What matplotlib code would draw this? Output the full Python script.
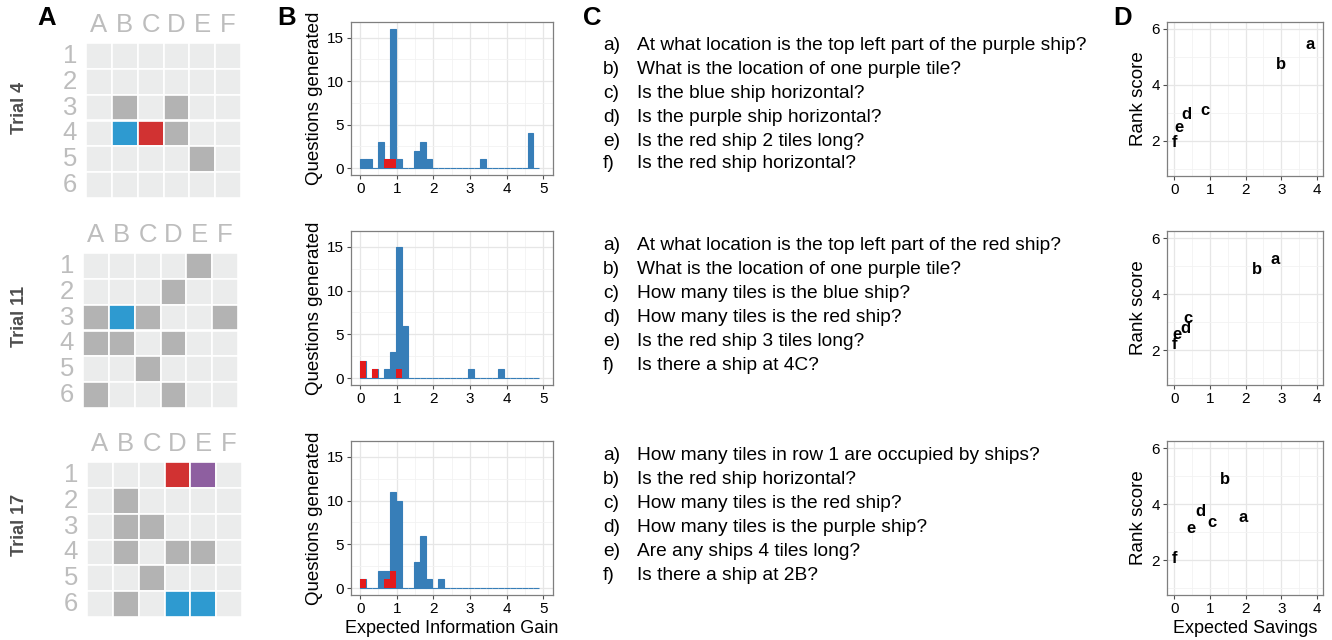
import numpy as np
import matplotlib
matplotlib.use("Agg")
import matplotlib.pyplot as plt
from matplotlib.patches import Rectangle

plt.rcParams['font.family'] = ['Liberation Sans', 'DejaVu Sans']

W, H = 1332, 640
fig = plt.figure(figsize=(W / 100, H / 100), dpi=100)

def ax_px(l, t, r, b):
    return fig.add_axes([l / W, 1 - b / H, (r - l) / W, (b - t) / H])

# ---------------- data ----------------
trials = ["Trial 4", "Trial 11", "Trial 17"]
col_letters = ["A", "B", "C", "D", "E", "F"]
row_numbers = ["1", "2", "3", "4", "5", "6"]

# board codes: . unknown, H hit (grey), B blue, R red, P purple
board_t4 = ["......",
            "......",
            ".H.H..",
            ".BRH..",
            "....H.",
            "......"]
board_t11 = ["....H.",
             "...H..",
             "HBH..H",
             "HH.H..",
             "..H...",
             "H..H.."]
board_t17 = ["...RP.",
             ".H....",
             ".HH...",
             ".H.HH.",
             "..H...",
             ".H.BB."]
boards = [board_t4, board_t11, board_t17]

# histogram: 30 bins of expected information gain, counts per bin
blue_t4 = [1, 1, 0, 3, 1, 16, 1, 0, 0, 2, 3, 1, 0, 0, 0, 0, 0, 0, 0, 0, 1, 0, 0, 0, 0, 0, 0, 0, 4, 0]
red_t4 = [0, 0, 0, 0, 1, 1, 0, 0, 0, 0, 0, 0, 0, 0, 0, 0, 0, 0, 0, 0, 0, 0, 0, 0, 0, 0, 0, 0, 0, 0]
blue_t11 = [2, 0, 1, 0, 1, 3, 15, 6, 0, 0, 0, 0, 0, 0, 0, 0, 0, 0, 1, 0, 0, 0, 0, 1, 0, 0, 0, 0, 0, 0]
red_t11 = [2, 0, 1, 0, 0, 0, 1, 0, 0, 0, 0, 0, 0, 0, 0, 0, 0, 0, 0, 0, 0, 0, 0, 0, 0, 0, 0, 0, 0, 0]
blue_t17 = [1, 0, 0, 2, 2, 11, 10, 0, 0, 3, 6, 1, 0, 1, 0, 0, 0, 0, 0, 0, 0, 0, 0, 0, 0, 0, 0, 0, 0, 0]
red_t17 = [1, 0, 0, 0, 1, 2, 0, 0, 0, 0, 0, 0, 0, 0, 0, 0, 0, 0, 0, 0, 0, 0, 0, 0, 0, 0, 0, 0, 0, 0]
blue_counts = [blue_t4, blue_t11, blue_t17]
red_counts = [red_t4, red_t11, red_t17]
eig_max = 4.9

# questions
q_letters = ["a)", "b)", "c)", "d)", "e)", "f)"]
questions_t4 = ["At what location is the top left part of the purple ship?",
                "What is the location of one purple tile?",
                "Is the blue ship horizontal?",
                "Is the purple ship horizontal?",
                "Is the red ship 2 tiles long?",
                "Is the red ship horizontal?"]
questions_t11 = ["At what location is the top left part of the red ship?",
                 "What is the location of one purple tile?",
                 "How many tiles is the blue ship?",
                 "How many tiles is the red ship?",
                 "Is the red ship 3 tiles long?",
                 "Is there a ship at 4C?"]
questions_t17 = ["How many tiles in row 1 are occupied by ships?",
                 "Is the red ship horizontal?",
                 "How many tiles is the red ship?",
                 "How many tiles is the purple ship?",
                 "Are any ships 4 tiles long?",
                 "Is there a ship at 2B?"]
questions = [questions_t4, questions_t11, questions_t17]

# scatter: expected savings vs rank score
pt_labels = ["a", "b", "c", "d", "e", "f"]
savings_t4 = [3.81, 2.99, 0.87, 0.34, 0.14, 0.0]
rank_t4 = [5.45, 4.73, 3.10, 2.96, 2.50, 1.96]
savings_t11 = [2.83, 2.32, 0.40, 0.31, 0.07, 0.0]
rank_t11 = [5.25, 4.87, 3.11, 2.78, 2.54, 2.20]
savings_t17 = [1.94, 1.43, 1.06, 0.73, 0.48, 0.0]
rank_t17 = [3.52, 4.87, 3.35, 3.73, 3.13, 2.04]
savings = [savings_t4, savings_t11, savings_t17]
ranks = [rank_t4, rank_t11, rank_t17]

# ---------------- styles ----------------
cell_colors = {".": "#ebecec", "H": "#b3b3b3", "B": "#2e9ad0",
               "R": "#d13232", "P": "#8e5fa0"}
BLUE = "#377eb8"
RED = "#e41a1c"
BORDER = "#7f7f7f"
GRID_MAJ = "#e6e6e6"
GRID_MIN = "#f2f2f2"
LABEL_GREY = "#bdbdbd"

grid_boxes = [(86, 43, 241, 198), (83, 253, 238, 408), (87, 462, 242, 617)]
hist_boxes = [(351, 22, 553, 175), (351, 231, 553, 385), (351, 441, 553, 595)]
scat_boxes = [(1167, 22, 1323, 176), (1167, 231, 1323, 385), (1167, 441, 1323, 595)]
q_rows_y = [[45, 69, 93, 117, 141, 164],
            [245, 269, 293, 317, 341, 365],
            [455, 479, 503, 527, 551, 575]]
trial_label_y = [108, 316, 525]


def style_ggplot(ax):
    for s in ax.spines.values():
        s.set_color(BORDER)
        s.set_linewidth(0.9)
    ax.tick_params(axis='both', colors='#4d4d4d', labelcolor='black',
                   length=3, width=0.8, labelsize=11, pad=2)
    ax.grid(True, which='major', color=GRID_MAJ, lw=0.9, zorder=0)
    ax.grid(True, which='minor', color=GRID_MIN, lw=0.6, zorder=0)
    ax.tick_params(which='minor', length=0)
    ax.set_axisbelow(True)


for i in range(3):
    # ---------- A: board ----------
    l, t, r, b = grid_boxes[i]
    axg = ax_px(l, t, r, b)
    axg.set_xlim(0, 6)
    axg.set_ylim(6, 0)
    axg.axis('off')
    for ri, row in enumerate(boards[i]):
        for ci, ch in enumerate(row):
            axg.add_patch(Rectangle((ci, ri), 1, 1, facecolor=cell_colors[ch],
                                    edgecolor='white', lw=1.2))
    for ci, lab in enumerate(col_letters):
        axg.text(ci + 0.5, -0.25, lab, ha='center', va='bottom', fontsize=18.5,
                 color=LABEL_GREY, clip_on=False)
    for ri, lab in enumerate(row_numbers):
        axg.text(-0.35, ri + 0.5, lab, ha='right', va='center', fontsize=18.5,
                 color=LABEL_GREY, clip_on=False)
    fig.text(19 / W, 1 - trial_label_y[i] / H, trials[i], rotation=90,
             ha='center', va='center', fontsize=13, fontweight='bold',
             color='#4d4d4d')

    # ---------- B: histogram ----------
    l, t, r, b = hist_boxes[i]
    axh = ax_px(l, t, r, b)
    style_ggplot(axh)
    edges = np.linspace(0, eig_max, len(blue_counts[i]) + 1)
    w = edges[1] - edges[0]
    axh.bar(edges[:-1], blue_counts[i], width=w, align='edge', color=BLUE,
            edgecolor=BLUE, lw=0.8, zorder=2)
    axh.bar(edges[:-1], red_counts[i], width=w, align='edge', color=RED,
            lw=0, zorder=3)
    axh.set_xlim(-0.25, 5.27)
    axh.set_ylim(-0.8, 16.8)
    axh.set_xticks([0, 1, 2, 3, 4, 5])
    axh.set_xticks(np.arange(0.5, 5.0, 1.0), minor=True)
    axh.set_yticks([0, 5, 10, 15])
    axh.set_yticks([2.5, 7.5, 12.5], minor=True)
    axh.set_ylabel("Questions generated", fontsize=13.5, labelpad=3)
    if i == 2:
        axh.set_xlabel("Expected Information Gain", fontsize=13, labelpad=3)

    # ---------- C: questions ----------
    for k in range(6):
        y = 1 - q_rows_y[i][k] / H
        fig.text(603 / W, y, q_letters[k], ha='left', va='center', fontsize=13.8)
        fig.text(637 / W, y, questions[i][k], ha='left', va='center', fontsize=13.8)

    # ---------- D: scatter ----------
    l, t, r, b = scat_boxes[i]
    axs = ax_px(l, t, r, b)
    style_ggplot(axs)
    for x, y, lab in zip(savings[i], ranks[i], pt_labels):
        axs.text(x, y, lab, ha='center', va='center', fontsize=12,
                 fontweight='bold', zorder=3)
    axs.set_xlim(-0.2, 4.17)
    axs.set_ylim(0.75, 6.25)
    axs.set_xticks([0, 1, 2, 3, 4])
    axs.set_xticks(np.arange(0.5, 4.0, 1.0), minor=True)
    axs.set_yticks([2, 4, 6])
    axs.set_yticks([1, 3, 5], minor=True)
    axs.set_ylabel("Rank score", fontsize=13.5, labelpad=3)
    if i == 2:
        axs.set_xlabel("Expected Savings", fontsize=13, labelpad=3)

# panel letters
for lab, x in zip(["A", "B", "C", "D"], [47, 287, 592, 1123]):
    fig.text(x / W, 1 - 18 / H, lab, ha='center', va='center', fontsize=18.5,
             fontweight='bold')

fig.savefig("out.png", dpi=100)
